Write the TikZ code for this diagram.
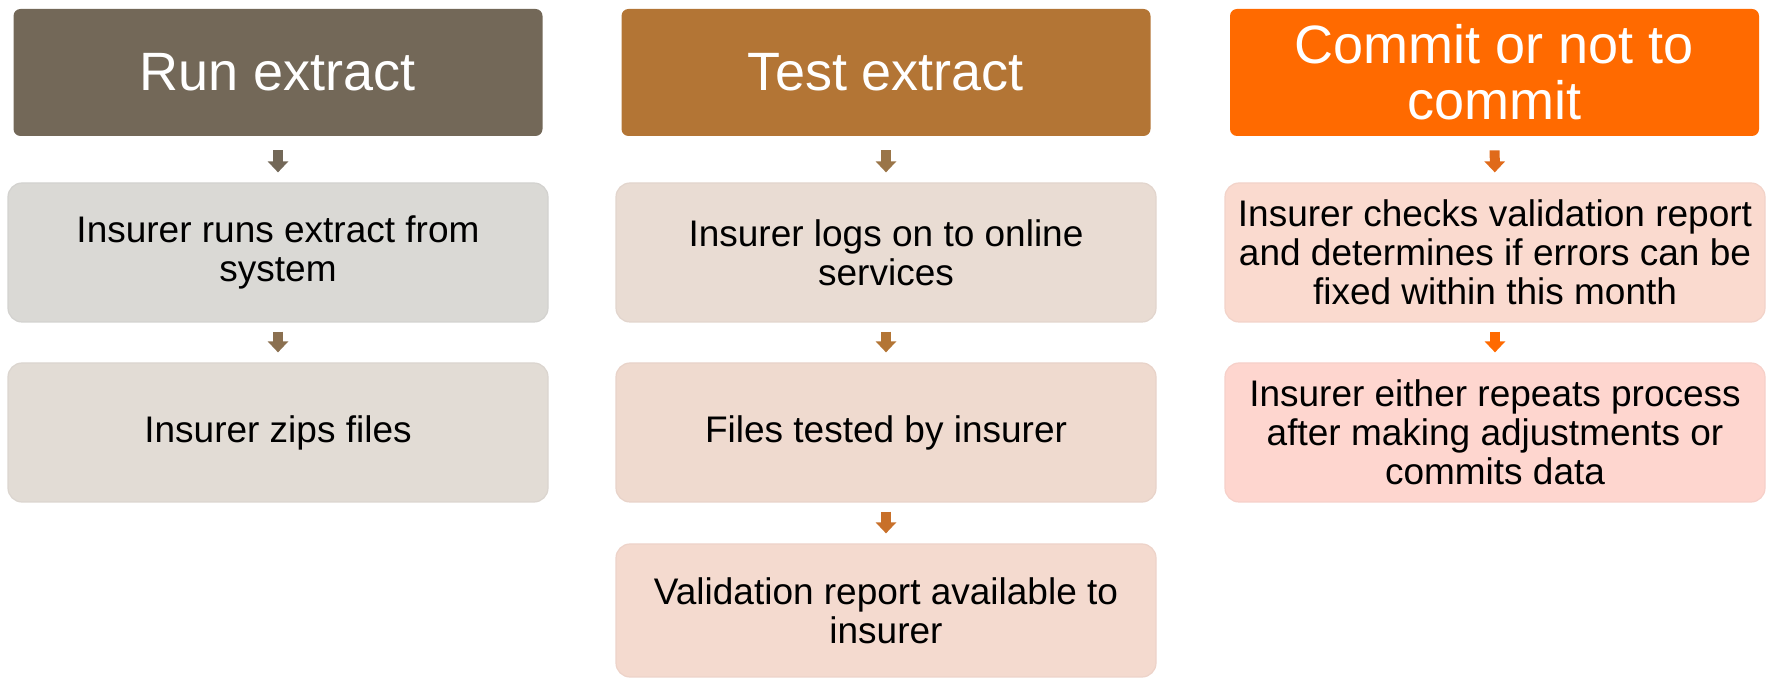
\documentclass[tikz,border=0pt]{standalone}
\usepackage{fontspec}
\setmainfont{Liberation Sans}
\usetikzlibrary{arrows.meta}

\definecolor{hdrA}{HTML}{736858}
\definecolor{hdrB}{HTML}{B37535}
\definecolor{hdrC}{HTML}{FF6A00}
\definecolor{boxAa}{HTML}{DAD9D5}
\definecolor{boxAb}{HTML}{E2DCD5}
\definecolor{boxBa}{HTML}{E9DCD3}
\definecolor{boxBb}{HTML}{EFDACF}
\definecolor{boxBc}{HTML}{F4DACF}
\definecolor{boxCa}{HTML}{FADACF}
\definecolor{boxCb}{HTML}{FED6CF}
\definecolor{arrAa}{HTML}{736858}
\definecolor{arrAb}{HTML}{8B7050}
\definecolor{arrBa}{HTML}{9A7548}
\definecolor{arrBb}{HTML}{B37535}
\definecolor{arrBc}{HTML}{C8702A}
\definecolor{arrCa}{HTML}{E06A1A}
\definecolor{arrCb}{HTML}{FF6A00}

\tikzset{
	phase/.style={rounded corners=3.5pt, minimum width=264.5pt, minimum height=63.5pt, inner sep=2pt,
		align=center, text=white, font=\fontsize{27}{28}\selectfont},
	taskbox/.style={rounded corners=7pt, minimum width=270pt, minimum height=69.5pt, inner sep=2pt,
		align=center, line width=0.6pt, font=\fontsize{18.5}{19.5}\selectfont},
	blockarrow/.style={line width=5pt, -{Triangle[width=10pt,length=5.5pt]}, shorten <=4.5pt, shorten >=5pt}
}

\begin{document}
\begin{tikzpicture}[x=0.5pt, y=-0.5pt]
		\useasboundingbox (0,0) rectangle (1774,678);

		% headers
		\node[phase, fill=hdrA] (runhd) at (278, 72.5) {Run extract};
		\node[phase, fill=hdrB] (testhd) at (886, 72.5) {Test extract};
		\node[phase, fill=hdrC] (commithd) at (1494.5, 72.5) {Commit or not to\\commit};

		% run extract
		\node[taskbox, fill=boxAa, draw=boxAa!97!black] (runs) at (278, 252.5) {Insurer runs extract from\\system};
		\node[taskbox, fill=boxAb, draw=boxAb!97!black] (zips) at (278, 432.5) {Insurer zips files};

		% test extract
		\node[taskbox, fill=boxBa, draw=boxBa!97!black] (logs) at (886, 252.5) {Insurer logs on to online\\services};
		\node[taskbox, fill=boxBb, draw=boxBb!97!black] (tested) at (886, 432.5) {Files tested by insurer};
		\node[taskbox, fill=boxBc, draw=boxBc!97!black, minimum height=66.5pt] (report) at (886, 610.5) {Validation report available to\\insurer};

		% commit
		\node[taskbox, fill=boxCa, draw=boxCa!97!black] (checks) at (1495, 252.5) {Insurer checks validation report\\and determines if errors can be\\fixed within this month};
		\node[taskbox, fill=boxCb, draw=boxCb!97!black] (repeats) at (1495, 432.5) {Insurer either repeats process\\after making adjustments or\\commits data};

		\draw[blockarrow, arrAa, shorten <=7pt] (runhd) -- (runs);
		\draw[blockarrow, arrAb] (runs) -- (zips);
		\draw[blockarrow, arrBa, shorten <=7pt] (testhd) -- (logs);
		\draw[blockarrow, arrBb] (logs) -- (tested);
		\draw[blockarrow, arrBc] (tested) -- (report);
		\draw[blockarrow, arrCa, shorten <=7pt] (commithd) -- (checks);
		\draw[blockarrow, arrCb] (checks) -- (repeats);
	\end{tikzpicture}
\end{document}
